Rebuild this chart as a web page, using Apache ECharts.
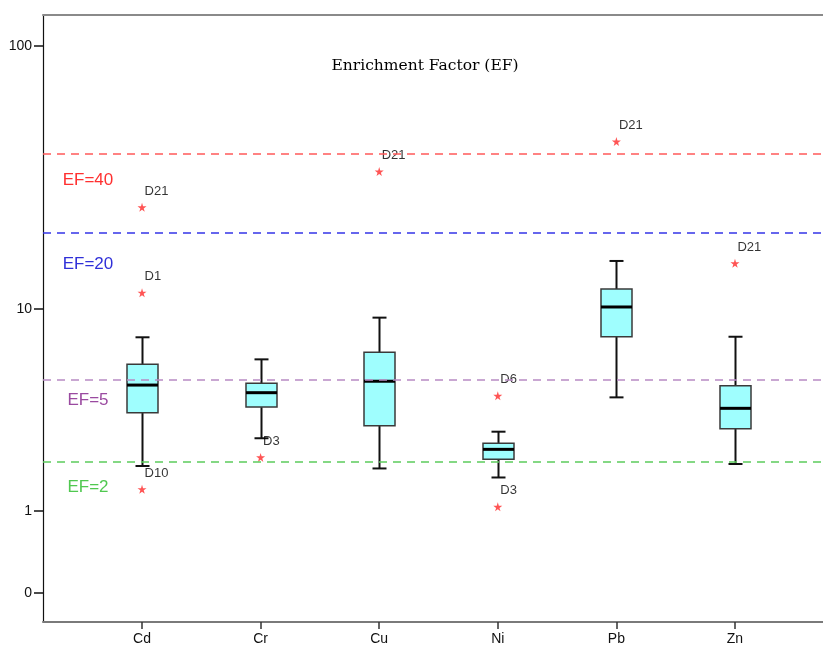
<!DOCTYPE html>
<html><head><meta charset="utf-8">
<script src="https://cdn.jsdelivr.net/npm/echarts@6/dist/echarts.min.js"></script>
<style>html,body{margin:0;padding:0;background:#fff}#c{width:823px;height:646px}</style>
</head><body><div id="c"></div>
<script>
// ---- data ----
const categories = ['Cd', 'Cr', 'Cu', 'Ni', 'Pb', 'Zn'];
const whiskerLow  = [1.92, 2.69, 1.86, 1.65, 4.21, 1.97];
const quartile1   = [3.58, 3.80, 3.10, 2.09, 7.69, 3.00];
const medians     = [4.78, 4.42, 4.97, 2.36, 10.17, 3.75];
const quartile3   = [5.89, 4.87, 6.62, 2.54, 12.0, 4.75];
const whiskerHigh = [7.65, 6.18, 9.21, 2.90, 15.47, 7.69];
const outlierCategory = ['Cd', 'Cd', 'Cd', 'Cr', 'Cu', 'Ni', 'Ni', 'Pb', 'Zn'];
const outlierValues   = [24.9, 11.6, 1.40, 2.14, 34.0, 4.28, 1.07, 44.1, 15.15];
const outlierLabels   = ['D21', 'D1', 'D10', 'D3', 'D21', 'D6', 'D3', 'D21', 'D21'];
const yTickValues = [0, 1, 10, 100];
const thresholdValues = [40, 20, 5, 2];
const thresholdLabels = ['EF=40', 'EF=20', 'EF=5', 'EF=2'];
const chartTitle = 'Enrichment Factor (EF)';

// ---- styling ----
const thresholdLineColors = ['#ff5a5a', '#3535e8', '#b88ac4', '#5ccc5c'];
const thresholdTextColors = ['#ff3030', '#3030d8', '#9a4aa0', '#50c850'];
const thresholdLabelOffsets = [27.5, 32.5, 20, 25];
const FONT = "'Liberation Sans', Arial, sans-serif";

const tf = v => Math.log10(v + 1);           // log10(x+1) axis transform
const inv = t => Math.pow(10, t) - 1;

const boxData = categories.map((c, i) => [i, tf(whiskerLow[i]), tf(quartile1[i]), tf(medians[i]), tf(quartile3[i]), tf(whiskerHigh[i])]);
const outlierData = outlierValues.map((v, i) => ({ value: [categories.indexOf(outlierCategory[i]), tf(v)], name: outlierLabels[i] }));

const star = 'path://M50,0 L61,35 L98,35 L68,57 L79,91 L50,70 L21,91 L32,57 L2,35 L39,35 Z';

function renderBox(params, api) {
  const x = api.value(0);
  const pLow = api.coord([x, api.value(1)]);
  const pQ1 = api.coord([x, api.value(2)]);
  const pMed = api.coord([x, api.value(3)]);
  const pQ3 = api.coord([x, api.value(4)]);
  const pHigh = api.coord([x, api.value(5)]);
  const cx = Math.round(pMed[0]) + 0.5;
  const half = 15.5, cap = 7;
  const wStyle = { stroke: '#111', lineWidth: 2 };
  return {
    type: 'group',
    children: [
      { type: 'line', shape: { x1: cx, y1: pHigh[1], x2: cx, y2: pQ3[1] }, style: wStyle },
      { type: 'line', shape: { x1: cx, y1: pQ1[1], x2: cx, y2: pLow[1] }, style: wStyle },
      { type: 'line', shape: { x1: cx - cap, y1: pHigh[1], x2: cx + cap, y2: pHigh[1] }, style: wStyle },
      { type: 'line', shape: { x1: cx - cap, y1: pLow[1], x2: cx + cap, y2: pLow[1] }, style: wStyle },
      { type: 'rect', shape: { x: cx - half, y: pQ3[1], width: half * 2, height: pQ1[1] - pQ3[1] },
        style: { fill: '#9ffefe', stroke: '#3a3a3a', lineWidth: 1.5 } },
      { type: 'line', shape: { x1: cx - half, y1: pMed[1], x2: cx + half, y2: pMed[1] },
        style: { stroke: '#000', lineWidth: 3 } }
    ]
  };
}

const chart = echarts.init(document.getElementById('c'), null, { renderer: 'canvas' });
const xMin = -0.835, xMax = 5.835;
chart.setOption({
  animation: false,
  backgroundColor: '#fff',
  title: {
    text: chartTitle, left: 420, top: 53, textAlign: 'center',
    textStyle: { fontFamily: "'DejaVu Serif', serif", fontSize: 15.5, fontWeight: 'normal', color: '#000' }
  },
  grid: { left: 43, right: -11, top: 15, bottom: 24, containLabel: false, outerBoundsMode: 'none' },
  xAxis: [{
    type: 'value', min: xMin, max: xMax, position: 'bottom',
    splitLine: { show: false },
    axisLine: { show: true, onZero: false, lineStyle: { color: '#7a7a7a', width: 2 } },
    axisTick: { show: true, customValues: categories.map((c, i) => i), length: 7, lineStyle: { color: '#333', width: 1.5 } },
    axisLabel: { customValues: categories.map((c, i) => i), formatter: v => categories[Math.round(v)] || '',
      margin: 10, fontSize: 14, color: '#111', fontFamily: FONT }
  }, {
    type: 'value', min: xMin, max: xMax, position: 'top',
    splitLine: { show: false },
    axisLine: { show: true, onZero: false, lineStyle: { color: '#8a8a8a', width: 2 } },
    axisTick: { show: false }, axisLabel: { show: false }
  }],
  yAxis: {
    type: 'value', min: -0.1063, max: 2.118, position: 'left',
    splitLine: { show: false },
    axisLine: { show: true, onZero: false, lineStyle: { color: '#111', width: 1.2 } },
    axisTick: { show: true, customValues: yTickValues.map(tf), length: 9, lineStyle: { color: '#111', width: 1.5 } },
    axisLabel: { customValues: yTickValues.map(tf), formatter: v => String(Math.round(inv(v))),
      margin: 11, fontSize: 14, color: '#111', fontFamily: FONT }
  },
  series: [
    {
      type: 'line', data: [], silent: true,
      markLine: {
        silent: true, symbol: 'none', label: { show: false },
        data: thresholdValues.map((v, i) => ({ yAxis: tf(v), lineStyle: { color: thresholdLineColors[i], type: [8, 6], width: 1.5 } }))
      }
    },
    {
      type: 'custom', renderItem: renderBox, data: boxData, z: 3,
      encode: { x: 0, y: [1, 2, 3, 4, 5] }
    },
    {
      type: 'scatter', data: outlierData, symbol: star, symbolSize: 9, z: 4,
      itemStyle: { color: '#ff2a2a' },
      label: { show: true, formatter: p => p.name, position: [7, -18], fontSize: 13, color: '#000', fontFamily: FONT }
    }
  ]
});

// threshold annotations placed relative to their lines
const graphics = thresholdValues.map((v, i) => {
  const y = chart.convertToPixel({ yAxisIndex: 0 }, tf(v)) + thresholdLabelOffsets[i];
  return {
    type: 'text', x: 88, y: y,
    style: { text: thresholdLabels[i], fill: thresholdTextColors[i], font: '17px ' + FONT, textAlign: 'center', textVerticalAlign: 'middle' }
  };
});
chart.setOption({ graphic: graphics });
</script>
</body></html>
